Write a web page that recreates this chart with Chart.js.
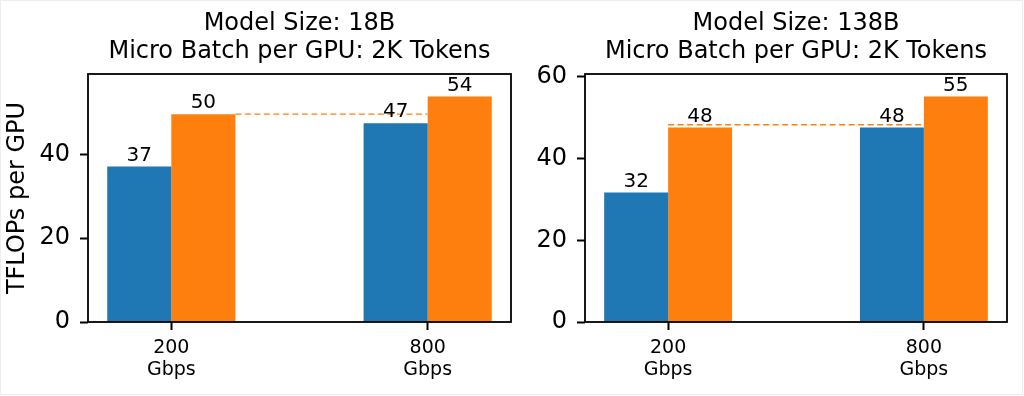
<!DOCTYPE html>
<html>
<head>
<meta charset="utf-8">
<script src="https://cdn.jsdelivr.net/npm/chart.js@4.4.0/dist/chart.umd.min.js"></script>
<style>
  html, body { margin: 0; padding: 0; background: #fff; }
  #wrap { position: relative; width: 1024px; height: 396px; overflow: hidden; }
  .panel { position: absolute; top: 0; width: 512px; height: 396px; }
  #leftPanel { left: 0; }
  #rightPanel { left: 512px; }
  #frame { position: absolute; left: 0; top: 0; width: 1021px; height: 393px; border: 1px solid #ededed; pointer-events: none; }
</style>
</head>
<body>
<div id="wrap">
  <div class="panel" id="leftPanel"><canvas id="chart18" width="512" height="396"></canvas></div>
  <div class="panel" id="rightPanel"><canvas id="chart138" width="512" height="396"></canvas></div>
  <div id="frame"></div>
</div>
<script>
// data
const categories = [["200", "Gbps"], ["800", "Gbps"]];
const categoryPos = [0, 1];

const title18 = ["Model Size: 18B", "Micro Batch per GPU: 2K Tokens"];
const title138 = ["Model Size: 138B", "Micro Batch per GPU: 2K Tokens"];

const blue18 = [37.1, 47.4];
const orange18 = [49.6, 53.8];
const blue138 = [31.7, 47.6];
const orange138 = [47.6, 55.2];

const yTicks18 = [0, 20, 40];
const yTicks138 = [0, 20, 40, 60];

// dashed reference line: value and x range (in category units)
const dash18 = [49.6, 0.25, 1.0];
const dash138 = [48.3, 0.0, 1.0];

const BLUE = "#1f77b4";
const ORANGE = "#ff7f0e";
const FONT = "DejaVu Sans";

const framePlugin = {
  id: "frame",
  afterDatasetsDraw(chart) {
    const { ctx, chartArea: a } = chart;
    ctx.save();
    ctx.strokeStyle = "#000";
    ctx.lineWidth = 1.8;
    ctx.strokeRect(a.left, a.top, a.right - a.left, a.bottom - a.top);
    ctx.restore();
  },
};

const barLabels = {
  id: "barLabels",
  afterDatasetsDraw(chart) {
    const ctx = chart.ctx;
    ctx.save();
    ctx.font = "20px '" + FONT + "'";
    ctx.fillStyle = "#000";
    ctx.textAlign = "center";
    ctx.textBaseline = "alphabetic";
    chart.data.datasets.forEach((ds, i) => {
      if (ds.type === "line") return;
      chart.getDatasetMeta(i).data.forEach((bar, j) => {
        ctx.fillText(String(Math.round(ds.data[j].y)), bar.x, bar.y - 6);
      });
    });
    ctx.restore();
  },
};

function makeChart(id, title, blue, orange, yTicks, dash, yWidth, padRight, showYTitle) {
  const ymax = Math.max(...blue, ...orange) * 1.1;
  return new Chart(document.getElementById(id), {
    type: "bar",
    data: {
      datasets: [
        {
          type: "line",
          data: [{ x: dash[1], y: dash[0] }, { x: dash[2], y: dash[0] }],
          borderColor: ORANGE,
          borderWidth: 1.3,
          borderDash: [6, 3.5],
          pointRadius: 0,
          fill: false,
          order: -1,
        },
        {
          data: categoryPos.map((x, i) => ({ x: x, y: blue[i] })),
          backgroundColor: BLUE,
        },
        {
          data: categoryPos.map((x, i) => ({ x: x, y: orange[i] })),
          backgroundColor: ORANGE,
        },
      ],
    },
    options: {
      responsive: false,
      animation: false,
      categoryPercentage: 0.5,
      barPercentage: 1.0,
      layout: { padding: { left: 0, right: padRight, top: 0, bottom: 0 } },
      plugins: {
        legend: { display: false },
        tooltip: { enabled: false },
        title: {
          display: true,
          text: title,
          fullSize: false,
          color: "#000",
          font: { family: FONT, size: 24, weight: "normal", lineHeight: 1.2 },
          padding: { top: 9, bottom: 7.4 },
        },
      },
      scales: {
        x: {
          type: "linear",
          min: -0.325,
          max: 1.325,
          offset: false,
          afterBuildTicks: (s) => { s.ticks = categoryPos.map((v) => ({ value: v })); },
          afterFit: (s) => { s.height = 74; },
          ticks: {
            color: "#000",
            padding: 7,
            maxRotation: 0,
            font: { family: FONT, size: 19, lineHeight: 1.15 },
            callback: (v) => categories[categoryPos.indexOf(v)],
          },
          grid: { offset: false, drawOnChartArea: false, drawTicks: true, tickLength: 8, tickColor: "#000", tickWidth: 2, color: "#000" },
          border: { display: false },
        },
        y: {
          min: 0,
          max: ymax,
          afterBuildTicks: (s) => { s.ticks = yTicks.map((v) => ({ value: v })); },
          afterFit: (s) => { s.width = yWidth; },
          ticks: {
            color: "#000",
            padding: 10,
            font: { family: FONT, size: 24, lineHeight: 1.2 },
          },
          grid: { offset: false, drawOnChartArea: false, drawTicks: true, tickLength: 8, tickColor: "#000", tickWidth: 2, color: "#000" },
          border: { display: false },
          title: {
            display: showYTitle,
            text: "TFLOPs per GPU",
            color: "#000",
            font: { family: FONT, size: 24, lineHeight: 1.2 },
            padding: { top: 3, bottom: 0 },
          },
        },
      },
    },
    plugins: [framePlugin, barLabels],
  });
}

makeChart("chart18", title18, blue18, orange18, yTicks18, dash18, 88, 1, true);
makeChart("chart138", title138, blue138, orange138, yTicks138, dash138, 73, 17, false);
</script>
</body>
</html>
